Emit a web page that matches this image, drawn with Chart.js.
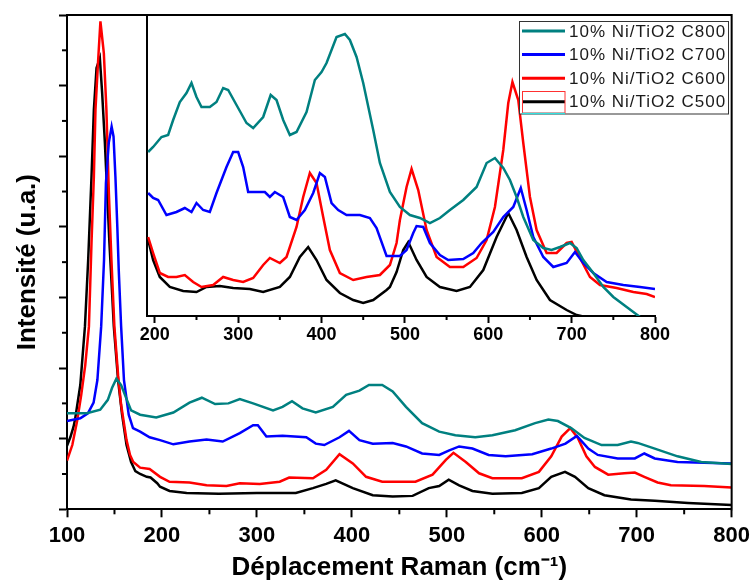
<!DOCTYPE html>
<html>
<head>
<meta charset="utf-8">
<script src="https://cdn.jsdelivr.net/npm/chart.js"></script>
<style>
  html, body { margin: 0; padding: 0; background: #fff; }
  #wrap { position: relative; width: 755px; height: 583px; }
  #wrap canvas { position: absolute; left: 0; top: 0; }
</style>
</head>
<body>
<div id="wrap">
  <canvas id="main" width="755" height="583"></canvas>
  <canvas id="inset" width="755" height="583"></canvas>
</div>
<script>
// series names and colours (legend order)
const seriesNames = ["10% Ni/TiO2 C800", "10% Ni/TiO2 C700", "10% Ni/TiO2 C600", "10% Ni/TiO2 C500"];
const seriesColors = ["#008080", "#0000ff", "#ff0000", "#000000"];

// main plot: [Raman shift cm-1, intensity a.u.]
const mainC800 = [[100,1.36],[121,1.36],[135,1.41],[143,1.55],[147.5,1.72],[152,1.85],[157,1.76],[161,1.62],[167.5,1.40],[177,1.34],[194,1.30],[212,1.37],[229,1.51],[242,1.58],[256,1.49],[270,1.50],[282,1.56],[296,1.50],[317,1.40],[327,1.45],[337,1.53],[348,1.43],[362,1.37],[380,1.45],[394,1.62],[408,1.68],[418,1.76],[432,1.76],[443,1.67],[457,1.45],[474,1.22],[492,1.10],[509,1.05],[530,1.02],[548,1.05],[572,1.12],[593,1.22],[607,1.27],[617,1.25],[631,1.15],[645,1.01],[663,0.91],[680,0.91],[694,0.96],[701,0.94],[719,0.86],[743,0.75],[768,0.67],[800,0.64]];
const mainC700 = [[100,1.25],[114,1.29],[122,1.36],[128,1.51],[132,1.83],[136,2.59],[139,3.53],[141,4.62],[144,5.19],[147,5.42],[149,5.28],[151,4.71],[153,4.00],[154.5,3.39],[157,2.59],[160,1.83],[165,1.34],[169.5,1.15],[177,1.10],[187,1.02],[198,0.98],[212,0.92],[229,0.96],[247,0.99],[264,0.96],[282,1.08],[296,1.19],[301,1.19],[310,1.03],[327,1.04],[352,1.02],[362,0.93],[371,0.91],[387,1.02],[397,1.11],[408,0.98],[422,0.93],[443,0.94],[457,0.89],[474,0.79],[492,0.77],[502,0.83],[513,0.89],[527,0.86],[544,0.77],[562,0.75],[590,0.78],[610,0.86],[625,0.93],[637,1.04],[649,0.86],[659,0.77],[680,0.72],[698,0.72],[708,0.79],[719,0.72],[743,0.67],[771,0.66],[800,0.65]];
const mainC600 = [[100,0.69],[105.6,0.91],[110.8,1.26],[115,1.62],[119.2,2.04],[123.1,2.59],[125.8,3.77],[128.3,4.71],[130,5.66],[132.8,6.36],[135.2,6.91],[138.8,6.46],[141.5,5.66],[144.1,4.48],[146.8,3.53],[149.9,2.59],[153.8,1.90],[157,1.48],[162.7,0.98],[166.4,0.77],[169.8,0.67],[177,0.59],[187,0.57],[198,0.46],[208,0.39],[229,0.38],[247,0.34],[268,0.33],[282,0.37],[303,0.36],[324,0.39],[334,0.45],[359,0.44],[373,0.56],[387,0.78],[401,0.65],[415,0.46],[432,0.39],[467,0.39],[485,0.49],[499,0.70],[507,0.80],[520,0.67],[534,0.51],[548,0.44],[579,0.44],[597,0.53],[610,0.75],[621,1.03],[630,1.15],[638,1.01],[647,0.75],[656,0.60],[670,0.49],[687,0.51],[698,0.52],[708,0.46],[722,0.38],[736,0.34],[771,0.33],[800,0.31]];
const mainC500 = [[100,0.90],[103.5,1.02],[106.9,1.17],[108.7,1.29],[114,1.76],[118.9,2.59],[122.3,3.53],[125.8,4.71],[128.3,5.66],[131.1,6.25],[134.6,6.39],[137,5.90],[139.9,5.19],[142.3,4.48],[144.7,3.77],[147.5,3.06],[149.3,2.59],[153.8,1.83],[158,1.34],[162.7,0.91],[167.5,0.67],[172,0.54],[177,0.50],[184,0.46],[188,0.45],[195,0.37],[198,0.32],[208,0.26],[226,0.23],[260,0.22],[300,0.23],[341,0.23],[359,0.30],[373,0.36],[383,0.41],[401,0.30],[422,0.20],[443,0.18],[464,0.19],[481,0.30],[492,0.33],[502,0.42],[513,0.34],[527,0.26],[548,0.22],[579,0.23],[597,0.30],[610,0.46],[624.5,0.53],[635,0.46],[649,0.30],[666,0.20],[694,0.14],[719,0.12],[754,0.09],[800,0.06]];

// inset: [Raman shift cm-1, intensity a.u.]
const insetC800 = [[192,164],[198,169],[208,179],[216,181],[222,196],[230,214],[238,223],[244,233],[250,219],[256,209],[266,209],[274,214],[282,228],[288,226],[298,211],[310,193],[318,188],[330,199],[339,221],[346,216],[354,196],[362,181],[370,184],[382,204],[392,236],[400,244],[406,253],[418,279],[428,282],[434,276],[442,259],[450,233],[462,186],[470,153],[482,124],[494,109],[506,101],[518,98],[530,93],[542,98],[554,106],[570,116],[586,129],[598,153],[608,158],[618,148],[626,136],[634,119],[642,99],[654,76],[666,68],[676,66],[686,69],[698,73],[706,68],[714,56],[726,43],[738,29],[750,19],[766,9],[782,-1],[794,-7]];
const insetC700 = [[192,123],[198,118],[204,116],[214,101],[226,104],[236,108],[244,104],[250,113],[258,106],[266,104],[274,123],[286,149],[294,164],[300,164],[306,149],[312,124],[322,124],[332,124],[338,119],[344,124],[354,119],[362,99],[370,96],[380,106],[390,123],[398,143],[404,139],[412,113],[420,106],[430,101],[446,101],[458,98],[466,88],[478,60],[494,60],[502,66],[510,83],[514,90],[522,89],[530,73],[542,61],[552,56],[570,57],[582,63],[592,73],[606,84],[618,99],[630,109],[639,128],[646,106],[654,79],[666,59],[678,49],[694,53],[704,64],[714,53],[726,43],[742,34],[762,31],[782,29],[800,27]];
const insetC600 = [[192,79],[198,63],[206,43],[216,39],[226,39],[236,41],[246,34],[256,29],[270,31],[282,39],[294,36],[306,34],[318,38],[330,51],[338,58],[350,53],[358,59],[370,89],[378,119],[386,143],[394,133],[402,99],[410,66],[422,43],[438,36],[454,39],[470,41],[482,51],[490,73],[494,96],[502,129],[508,147],[516,126],[526,86],[538,59],[554,49],[570,49],[586,58],[598,76],[608,109],[618,166],[624,213],[629,234],[636,216],[642,173],[650,119],[658,86],[670,63],[682,63],[694,73],[700,74],[710,58],[722,39],[734,31],[754,28],[774,24],[790,22],[800,19]];
const insetC500 = [[192,76],[198,56],[206,39],[218,29],[234,25],[250,24],[262,29],[278,30],[294,28],[314,27],[330,24],[350,29],[362,39],[374,59],[384,69],[394,56],[406,36],[422,23],[438,16],[450,13],[462,16],[478,26],[482,29],[490,44],[498,66],[504,74],[514,56],[526,39],[542,29],[562,25],[578,29],[594,46],[610,79],[624,103],[634,86],[646,59],[658,36],[674,16],[694,6],[706,1],[722,-2]];

// ticks
const mainXTicks = [100, 200, 300, 400, 500, 600, 700, 800];
const mainXMinor = [150, 250, 350, 450, 550, 650, 750];
const mainYTicks = [0, 1, 2, 3, 4, 5, 6, 7];
const mainYMinor = [0.5, 1.5, 2.5, 3.5, 4.5, 5.5, 6.5];
const insetXTicks = [200, 300, 400, 500, 600, 700, 800];
const insetXMinor = [250, 350, 450, 550, 650, 750];

const FONT = "Arial, 'Liberation Sans', sans-serif";

function makeSets(list) {
  return list.map((d, i) => ({
    label: seriesNames[i],
    data: d,
    borderColor: seriesColors[i],
    borderWidth: 2.5,
    pointRadius: 0,
    tension: 0,
    fill: false
  }));
}

const minorTicks = {
  id: 'minorTicks',
  afterDraw(chart, args, opts) {
    const ctx = chart.ctx, a = chart.chartArea;
    ctx.save();
    ctx.strokeStyle = '#000';
    ctx.lineWidth = 2;
    (opts.x || []).forEach(v => {
      const px = chart.scales.x.getPixelForValue(v);
      ctx.beginPath(); ctx.moveTo(px, a.bottom); ctx.lineTo(px, a.bottom + opts.len); ctx.stroke();
    });
    (opts.y || []).forEach(v => {
      const py = chart.scales.y.getPixelForValue(v);
      ctx.beginPath(); ctx.moveTo(a.left, py); ctx.lineTo(a.left - opts.len, py); ctx.stroke();
    });
    ctx.restore();
  }
};

// top and right edge of the main box
const frame = {
  id: 'frame',
  afterDraw(chart, args, opts) {
    if (!opts.on) return;
    const ctx = chart.ctx, a = chart.chartArea;
    ctx.save();
    ctx.strokeStyle = '#000';
    ctx.lineWidth = 2;
    ctx.beginPath();
    ctx.moveTo(a.left - 1, a.top);
    ctx.lineTo(a.right, a.top);
    ctx.lineTo(a.right, a.bottom + 1);
    ctx.stroke();
    ctx.restore();
  }
};

const insetLegend = {
  id: 'insetLegend',
  afterDraw(chart, args, opts) {
    if (!opts.on) return;
    const ctx = chart.ctx;
    ctx.save();
    ctx.fillStyle = '#fff';
    ctx.fillRect(519.5, 21.5, 209, 92.5);
    ctx.strokeStyle = '#333';
    ctx.lineWidth = 1;
    ctx.strokeRect(519.5, 21.5, 209, 92.5);
    ctx.font = '17px ' + FONT;
    ctx.letterSpacing = '1px';
    ctx.textBaseline = 'middle';
    chart.data.datasets.forEach((ds, i) => {
      const y = 31 + i * 23.6;
      ctx.strokeStyle = ds.borderColor;
      ctx.lineWidth = 3;
      ctx.beginPath(); ctx.moveTo(522, y); ctx.lineTo(565, y); ctx.stroke();
      ctx.fillStyle = '#1a1a1a';
      ctx.fillText(ds.label, 569, y + 1);
    });
    // stray marks around the last legend sample
    ctx.strokeStyle = '#ff3030';
    ctx.lineWidth = 1;
    ctx.strokeRect(522.5, 91.5, 42.5, 21.5);
    ctx.strokeStyle = '#30e0e0';
    ctx.lineWidth = 1.5;
    ctx.beginPath(); ctx.moveTo(522, 113.5); ctx.lineTo(565, 113.5); ctx.stroke();
    ctx.restore();
  }
};

const axisGrid = { drawOnChartArea: false, tickLength: 8, tickWidth: 2, tickColor: '#000' };
const axisBorder = { color: '#000', width: 2 };

new Chart(document.getElementById('main'), {
  type: 'line',
  data: { datasets: makeSets([mainC800, mainC700, mainC600, mainC500]) },
  options: {
    responsive: false,
    animation: false,
    events: [],
    layout: { padding: { top: 15, right: 21, left: 0, bottom: 0 } },
    plugins: {
      legend: { display: false },
      tooltip: { enabled: false },
      minorTicks: { x: mainXMinor, y: mainYMinor, len: 5 },
      frame: { on: true }
    },
    scales: {
      x: {
        type: 'linear', min: 100, max: 800,
        afterBuildTicks: s => { s.ticks = mainXTicks.map(v => ({ value: v })); },
        afterFit: s => { s.height = 73.7; },
        grid: axisGrid,
        border: axisBorder,
        ticks: { font: { family: FONT, size: 22, weight: 'bold' }, color: '#000', padding: 5, maxRotation: 0 },
        title: { display: true, text: 'Déplacement Raman (cm⁻¹)', color: '#000',
                 font: { family: FONT, size: 26, weight: 'bold' }, padding: { top: 0, bottom: 0 } }
      },
      y: {
        type: 'linear', min: 0, max: 7,
        afterBuildTicks: s => { s.ticks = mainYTicks.map(v => ({ value: v })); },
        afterFit: s => { s.width = 67; },
        grid: axisGrid,
        border: axisBorder,
        ticks: { display: false },
        title: { display: true, text: 'Intensité (u.a.)', color: '#000',
                 font: { family: FONT, size: 26, weight: 'bold' }, padding: { top: 12, bottom: 0 } }
      }
    }
  },
  plugins: [minorTicks, frame]
});

new Chart(document.getElementById('inset'), {
  type: 'line',
  data: { datasets: makeSets([insetC800, insetC700, insetC600, insetC500]) },
  options: {
    responsive: false,
    animation: false,
    events: [],
    layout: { padding: { top: 16, right: 100, left: 147.3, bottom: 0 } },
    plugins: {
      legend: { display: false },
      tooltip: { enabled: false },
      minorTicks: { x: insetXMinor, len: 4 },
      insetLegend: { on: true }
    },
    scales: {
      x: {
        type: 'linear', min: 191, max: 800,
        afterBuildTicks: s => { s.ticks = insetXTicks.map(v => ({ value: v })); },
        afterFit: s => { s.height = 267; },
        grid: { drawOnChartArea: false, tickLength: 7, tickWidth: 2, tickColor: '#000' },
        border: axisBorder,
        ticks: { font: { family: FONT, size: 18, weight: 'bold' }, color: '#000', padding: 1, maxRotation: 0 }
      },
      y: {
        type: 'linear', min: 0, max: 300,
        afterFit: s => { s.width = 0; },
        grid: { drawOnChartArea: false, drawTicks: false },
        border: axisBorder,
        ticks: { display: false }
      }
    }
  },
  plugins: [minorTicks, insetLegend]
});
</script>
</body>
</html>
